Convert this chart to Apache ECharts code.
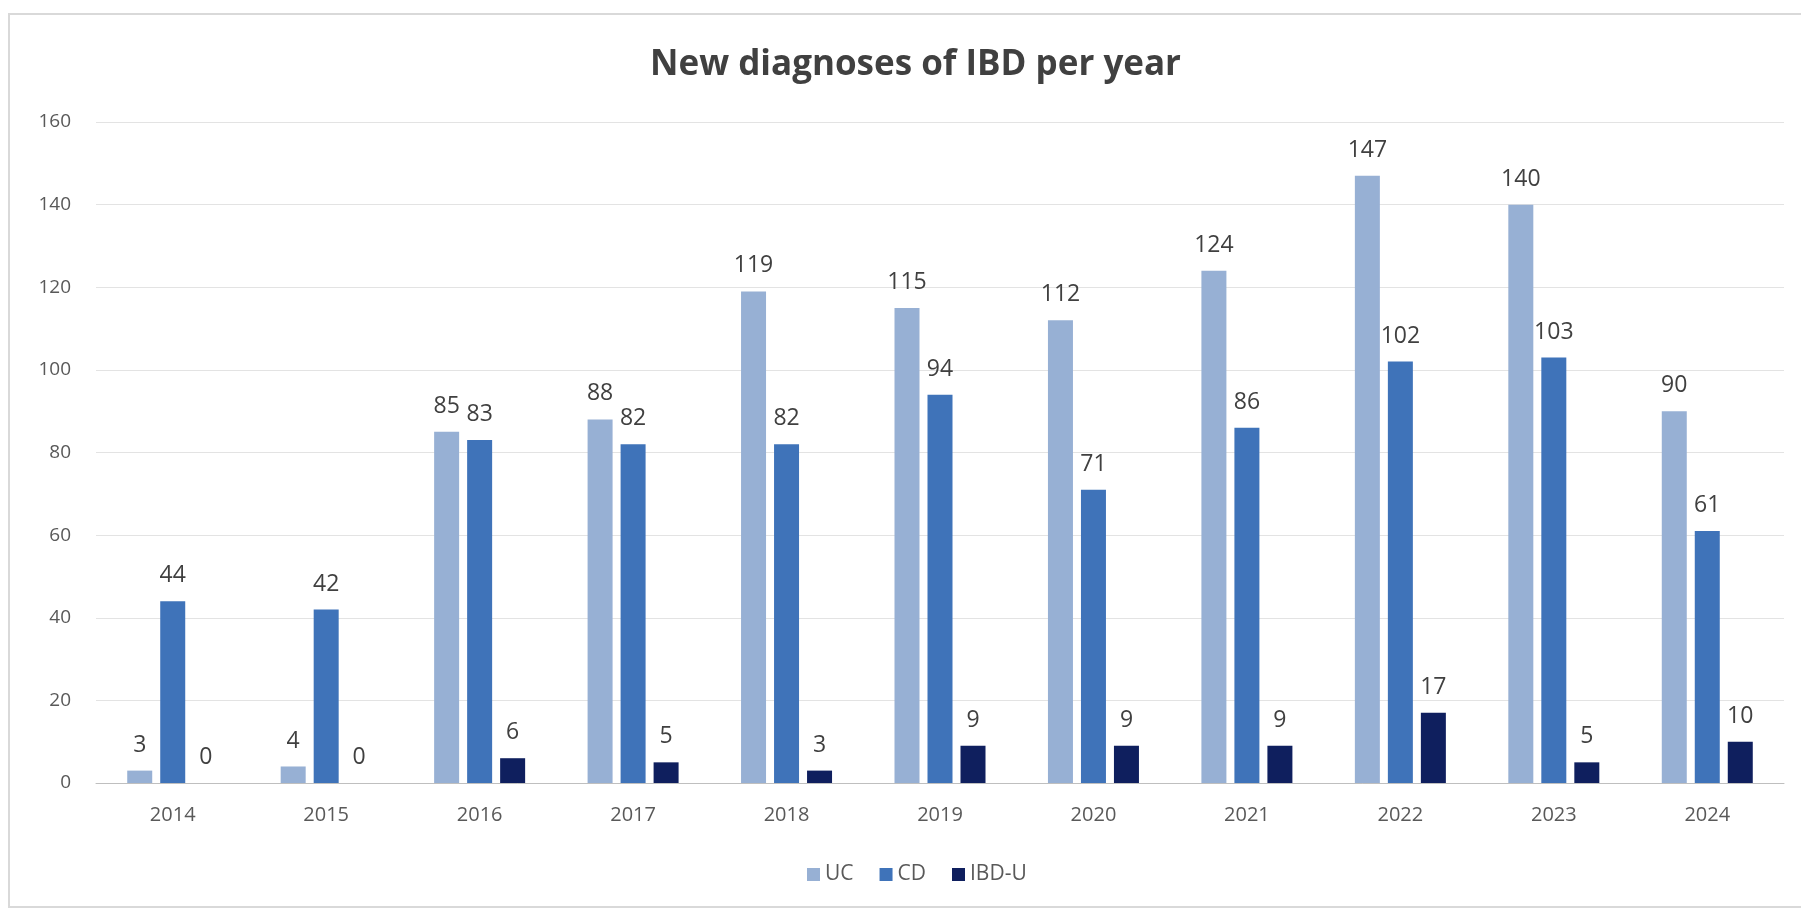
<!DOCTYPE html>
<html>
<head>
<meta charset="utf-8">
<script src="https://cdn.jsdelivr.net/npm/echarts@6/dist/echarts.min.js"></script>
<style>html,body{margin:0;padding:0;background:#fff;}#c{width:1801px;height:916px;}</style>
</head>
<body>
<div id="c"></div>
<script>
var categories = ['2014','2015','2016','2017','2018','2019','2020','2021','2022','2023','2024'];
var ucValues = [3, 4, 85, 88, 119, 115, 112, 124, 147, 140, 90];
var cdValues = [44, 42, 83, 82, 82, 94, 71, 86, 102, 103, 61];
var ibduValues = [0, 0, 6, 5, 3, 9, 9, 9, 17, 5, 10];
var yTicks = [0, 20, 40, 60, 80, 100, 120, 140, 160];

var FONT = '"Open Sans", sans-serif';
var chart = echarts.init(document.getElementById('c'), null, {renderer: 'canvas'});
var labelCfg = {show: true, position: 'top', distance: 14, color: '#404040', fontSize: 23, fontFamily: FONT};
function bar(name, data, color) {
  return {name: name, type: 'bar', data: data, barWidth: 25, barGap: '32%',
    itemStyle: {color: color}, label: labelCfg};
}
chart.setOption({
  animation: false,
  backgroundColor: '#ffffff',
  graphic: [{type: 'rect', shape: {x: 9, y: 14, width: 1800, height: 893},
    style: {fill: 'none', stroke: '#d9d9d9', lineWidth: 2}, silent: true}],
  title: {text: 'New diagnoses of IBD per year', left: 645, top: 43,
    textStyle: {fontFamily: FONT, fontWeight: 'bold', fontSize: 35, color: '#404040'}},
  legend: {bottom: 26, left: 802, itemWidth: 13, itemHeight: 13, itemGap: 26,
    icon: 'rect', textStyle: {fontFamily: FONT, fontSize: 21, color: '#595959'},
    data: ['UC', 'CD', 'IBD-U']},
  grid: {left: 96, right: 17, top: 122, bottom: 133, containLabel: false},
  xAxis: {type: 'category', data: categories,
    axisLine: {lineStyle: {color: '#bfbfbf', width: 1}}, axisTick: {show: false},
    axisLabel: {color: '#595959', fontSize: 20, fontFamily: FONT, margin: 22}},
  yAxis: {type: 'value', min: yTicks[0], max: yTicks[yTicks.length - 1], interval: 20,
    axisLine: {show: false}, axisTick: {show: false},
    splitLine: {lineStyle: {color: '#e3e3e3', width: 1}},
    axisLabel: {color: '#595959', fontSize: 19, fontFamily: FONT, margin: 25}},
  series: [
    bar('UC', ucValues, '#97b0d4'),
    bar('CD', cdValues, '#3f73b9'),
    bar('IBD-U', ibduValues, '#0f1f5e')
  ]
});
</script>
</body>
</html>
